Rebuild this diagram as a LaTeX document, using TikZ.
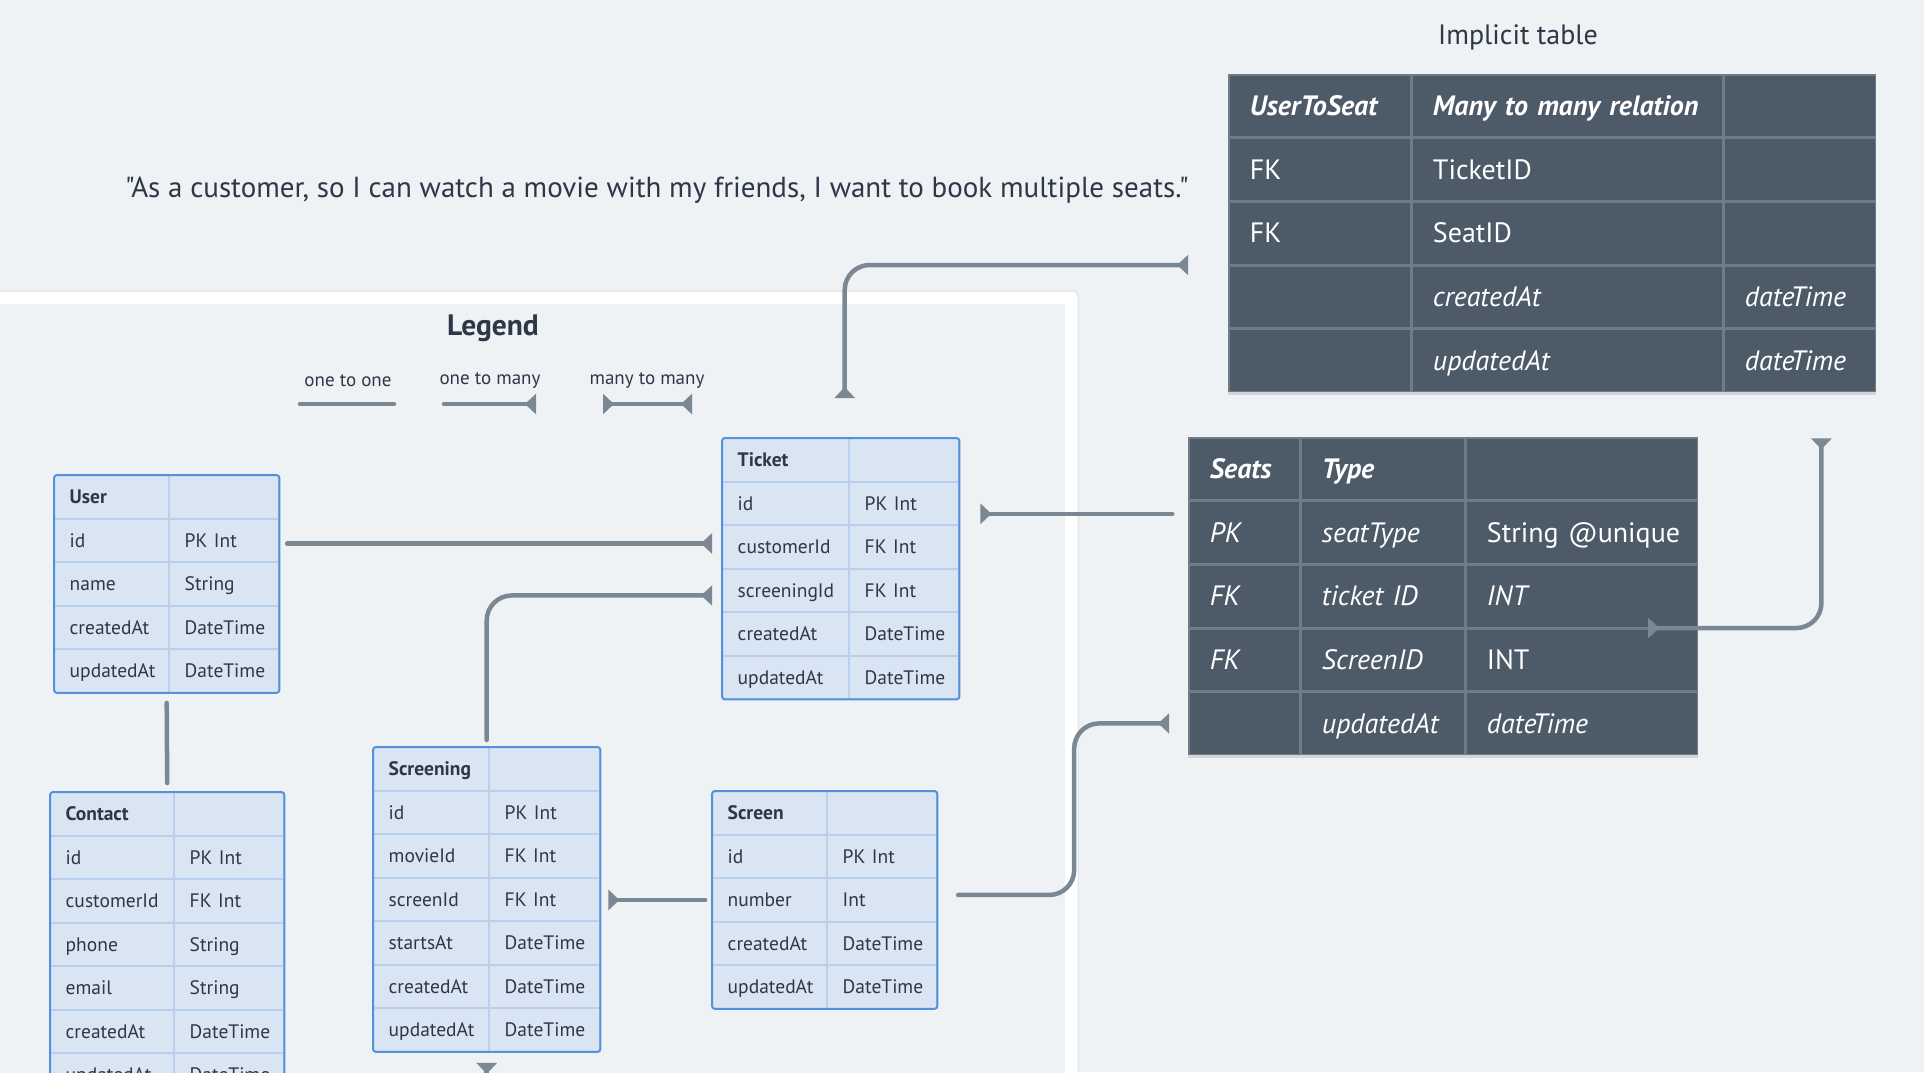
\documentclass[tikz,border=0pt]{standalone}
\usepackage{fontspec}
\setmainfont{PT Sans}[Ligatures=TeXOff]
\usetikzlibrary{arrows.meta,matrix,shadows,calc}
\definecolor{bgc}{RGB}{239,242,245}
\definecolor{txt}{RGB}{45,55,72}
\definecolor{lfill}{RGB}{218,229,243}
\definecolor{lline}{RGB}{184,208,238}
\definecolor{lborder}{RGB}{84,145,220}
\definecolor{dfill}{RGB}{77,90,104}
\definecolor{dline}{RGB}{112,124,137}
\definecolor{conncol}{RGB}{124,135,148}
\definecolor{framecol}{RGB}{222,226,230}
\tikzset{
  lcell/.style={draw=lline, line width=1pt, fill=lfill, minimum height=42.5pt,
    text height=14pt, text depth=0.5pt, inner xsep=15pt, inner ysep=0pt,
    align=left, text=txt, font=\fontsize{19.5}{23}\selectfont},
  lhead/.style={font=\fontsize{19.5}{23}\selectfont\bfseries},
  dcell/.style={draw=dline, line width=1.5pt, fill=dfill, minimum height=62.1pt,
    text height=20pt, text depth=0.5pt, inner xsep=21pt, inner ysep=0pt,
    align=left, text=white, font=\fontsize{28}{33}\selectfont},
  dhead/.style={font=\fontsize{28}{33}\selectfont\bfseries\itshape},
  dit/.style={font=\fontsize{28}{33}\selectfont\itshape},
  ltab/.style={matrix of nodes, nodes in empty cells, nodes={lcell},
    row sep=0pt, column sep=0pt, inner sep=0pt, anchor=north west},
  dtab/.style={matrix of nodes, nodes in empty cells, nodes={dcell},
    row sep=0pt, column sep=0pt, inner sep=0pt, anchor=north west,
    fill=dfill, drop shadow={opacity=0.25, shadow xshift=0pt, shadow yshift=-3pt}},
  lbord/.style={draw=lborder, line width=2pt, rounded corners=3pt},
  conn/.style={draw=conncol, line width=4.5pt, line cap=round, rounded corners=25pt},
  >={Triangle[reversed, length=11pt, width=20pt]},
  lbl/.style={text=txt, inner sep=0pt}
}
\begin{document}
\begin{tikzpicture}[x=1pt, y=-1pt]
\useasboundingbox (0,0) rectangle (1924,1072);
\clip (0,0) rectangle (1924,1072);
\fill[bgc] (0,0) rectangle (1924,1072);

% legend frame
\filldraw[fill=white, draw=framecol, line width=1pt, rounded corners=5pt] (-20,291) rectangle (1078,1100);
\fill[bgc] (-20,304) rectangle (1065,1100);

% texts
\node[lbl, font=\fontsize{28}{32}\selectfont] (impl) at (1518,37) {Implicit table};
\node[lbl, font=\fontsize{29}{33}\selectfont] (quote) at (657,190) {"As a customer, so I can watch a movie with my friends, I want to book multiple seats."};
\node[lbl, font=\fontsize{29.5}{34}\selectfont\bfseries] (legend) at (493,328) {Legend};
\node[lbl, font=\fontsize{19}{22}\selectfont] (oto) at (348,381) {one to one};
\node[lbl, font=\fontsize{19}{22}\selectfont] (otm) at (490,381) {one to many};
\node[lbl, font=\fontsize{19}{22}\selectfont] (mtm) at (647,381) {many to many};

% light tables
\matrix[ltab, column 1/.style={nodes={text width=84pt}}, column 2/.style={nodes={text width=79pt}}] (user) at (54,475) {
|[lhead]| User & \\
id & PK Int \\
name & String \\
createdAt & DateTime \\
updatedAt & DateTime \\
};
\draw[lbord] (user.north west) rectangle (user.south east);

\matrix[ltab, column 1/.style={nodes={text width=96pt}}, column 2/.style={nodes={text width=79pt}}] (ticket) at (722,438) {
|[lhead]| Ticket & \\
id & PK Int \\
customerId & FK Int \\
screeningId & FK Int \\
createdAt & DateTime \\
updatedAt & DateTime \\
};
\draw[lbord] (ticket.north west) rectangle (ticket.south east);

\matrix[ltab, column 1/.style={nodes={text width=93pt}}, column 2/.style={nodes={text width=79pt}}] (contact) at (50,792) {
|[lhead]| Contact & \\
id & PK Int \\
customerId & FK Int \\
phone & String \\
email & String \\
createdAt & DateTime \\
updatedAt & DateTime \\
};
\draw[lbord] (contact.north west) rectangle (contact.south east);

\matrix[ltab, column 1/.style={nodes={text width=85pt}}, column 2/.style={nodes={text width=80pt}}] (screening) at (373,747) {
|[lhead]| Screening & \\
id & PK Int \\
movieId & FK Int \\
screenId & FK Int \\
startsAt & DateTime \\
createdAt & DateTime \\
updatedAt & DateTime \\
};
\draw[lbord] (screening.north west) rectangle (screening.south east);

\matrix[ltab, column 1/.style={nodes={text width=84pt}}, column 2/.style={nodes={text width=79pt}}] (screen) at (712,791) {
|[lhead]| Screen & \\
id & PK Int \\
number & Int \\
createdAt & DateTime \\
updatedAt & DateTime \\
};
\draw[lbord] (screen.north west) rectangle (screen.south east);

% dark tables
\matrix[dtab, column 1/.style={nodes={text width=139.5pt}}, column 2/.style={nodes={text width=268.5pt}}, column 3/.style={nodes={text width=109.5pt}}] (uts) at (1228,74) {
|[dhead]| UserToSeat & |[dhead]| \mbox{Many to many relation} & \\
FK & TicketID & \\
FK & SeatID & \\
 & |[dit]| createdAt & |[dit]| dateTime \\
 & |[dit]| updatedAt & |[dit]| dateTime \\
};

\matrix[dtab, column 1/.style={nodes={text width=68.5pt}}, column 2/.style={nodes={text width=121.5pt}}, column 3/.style={nodes={text width=189.5pt}}] (seats) at (1188,437) {
|[dhead]| Seats & |[dhead]| Type & \\
|[dit]| PK & |[dit]| seatType & \mbox{String @unique} \\
|[dit]| FK & |[dit]| ticket ID & |[dit]| INT \\
|[dit]| FK & |[dit]| ScreenID & INT \\
 & |[dit]| updatedAt & |[dit]| dateTime \\
};

% legend lines
\coordinate (l1a) at (300,404); \coordinate (l1b) at (394,404);
\coordinate (l2a) at (444,404); \coordinate (l2b) at (536,404);
\coordinate (l3a) at (603,404); \coordinate (l3b) at (692,404);
\draw[conn] (l1a) -- (l1b);
\draw[conn,->] (l2a) -- (l2b);
\draw[conn,<->] (l3a) -- (l3b);

% connectors
\draw[conn,->] ([xshift=8pt,yshift=-3pt]user-2-2.east) -- ($([yshift=-3pt]user-2-2.east -| ticket.west)+(-10,0)$);
\draw[conn,->] ([yshift=7pt]screening.north) |- ($(ticket-4-1.west)+(-10,5)$);
\draw[conn,<->] ([xshift=4pt,yshift=40pt]ticket.north) |- ([xshift=-40pt]uts-4-1.north west);
\coordinate (sA) at ([xshift=-16pt,yshift=-13pt]seats-2-1.north west);
\draw[conn,->] (sA) -- ($(sA -| ticket.east)+(21,0)$);
\coordinate (sB) at ([xshift=21pt,yshift=5pt]screen-3-2.east);
\coordinate (sE) at ([xshift=-19pt]seats-5-1.west);
\coordinate (sM) at ([xshift=-95pt]sE);
\draw[conn,->] (sB) -| (sM) -- (sE);
\draw[conn,->] ([xshift=-7pt]screen-3-1.west) -- ($(screen-3-1.west -| screening.east)+(8,0)$);
\draw[conn] ([yshift=-10pt]user.south) -- ([yshift=9pt]contact.north);
\draw[conn,<->] ([xshift=-55pt,yshift=-46pt]uts.south east) |- ([xshift=-50pt]seats-4-3.north east);
\coordinate (scrB) at ([yshift=-40pt]screening.south);
\draw[conn,<-] ([yshift=-11pt]screening.south) -- (scrB);
\end{tikzpicture}
\end{document}
